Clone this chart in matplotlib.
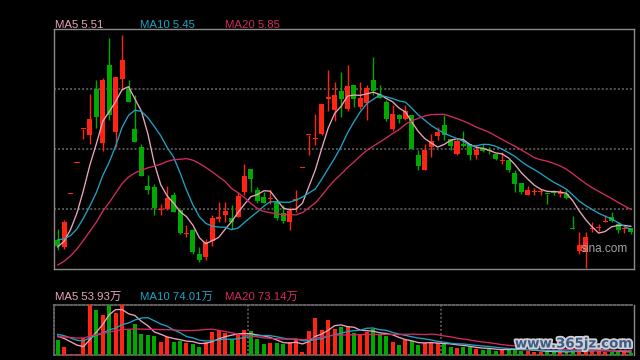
import numpy as np
import pandas as pd
import matplotlib
matplotlib.use("Agg")
import matplotlib.pyplot as plt
import matplotlib.patheffects as pe

plt.rcParams['font.family'] = ['Liberation Sans', 'Noto Sans CJK SC', 'DejaVu Sans']
plt.rcParams['lines.scale_dashes'] = False

# ---------------- data ----------------
# closes of the 19 sessions before the visible window (needed for the moving averages)
prior_close = [4.08, 4.00, 4.04, 4.02, 4.06, 4.04, 4.04, 4.34, 4.68, 5.04,
               5.40, 5.52, 5.44, 5.32, 5.24, 5.04, 5.00, 5.12, 5.22]
prior_volume = [200, 220, 240, 260, 250, 280, 300, 350, 370, 400,
                380, 450, 420, 400, 370, 360, 318, 318, 444]

opens = [5.24, 5.11, 6.17, 6.79, 7.47, 7.35, 8.26, 7.19, 8.74, 7.41,
         8.46, 8.26, 7.46, 7.11, 6.32, 6.31, 5.84, 5.86, 6.14, 5.85,
         5.37, 5.44, 4.95, 4.91, 5.22, 5.67, 5.74, 5.69, 5.71, 6.21,
         6.65, 6.25, 6.11, 6.06, 6.02, 5.79, 5.61, 6.02, 6.68, 7.35,
         7.27, 7.36, 8.07, 7.84, 8.21, 7.87, 8.35, 7.91, 7.99, 8.44,
         8.17, 7.99, 7.47, 7.73, 7.66, 7.75, 6.94, 6.64, 7.11, 7.32,
         7.54, 7.26, 6.97, 7.17, 7.17, 6.94, 7.09, 7.05, 6.97, 6.83,
         6.84, 6.59, 6.39, 6.15, 6.20, 6.20, 6.17, 6.19, 6.17, 6.17,
         5.48, 5.03, 5.01, 5.46, 5.48, 5.61, 5.69, 5.57, 5.46, 5.49]
highs = [5.46, 5.64, 6.17, 6.79, 7.47, 8.17, 8.44, 8.47, 9.29, 8.51,
         9.35, 8.44, 8.15, 7.17, 6.54, 6.36, 5.97, 6.32, 6.21, 5.85,
         5.54, 5.47, 5.11, 5.27, 5.74, 6.00, 6.01, 5.94, 6.21, 6.76,
         6.67, 6.31, 6.21, 6.24, 6.02, 5.94, 5.91, 6.24, 6.68, 7.35,
         7.77, 7.97, 8.64, 8.39, 8.61, 8.74, 8.35, 8.41, 8.34, 8.91,
         8.35, 8.04, 7.94, 7.77, 7.95, 7.75, 7.05, 7.16, 7.37, 7.51,
         7.75, 7.26, 7.27, 7.42, 7.17, 7.14, 7.17, 7.11, 6.97, 7.01,
         6.85, 6.64, 6.39, 6.32, 6.29, 6.27, 6.17, 6.25, 6.27, 6.25,
         5.72, 5.41, 5.41, 5.61, 5.57, 5.74, 5.81, 5.61, 5.52, 5.49]
lows = [5.04, 5.06, 6.17, 6.79, 7.26, 7.17, 7.49, 7.02, 7.64, 7.11,
        8.24, 8.01, 7.21, 6.53, 6.16, 5.74, 5.74, 5.84, 5.81, 5.36,
        5.31, 4.97, 4.81, 4.84, 5.12, 5.61, 5.61, 5.47, 5.71, 6.14,
        6.21, 5.99, 5.99, 5.97, 5.65, 5.59, 5.44, 5.81, 6.68, 6.94,
        7.14, 7.34, 7.82, 7.62, 7.71, 7.82, 7.91, 7.87, 7.64, 8.14,
        8.09, 7.62, 7.42, 7.59, 7.64, 7.07, 6.64, 6.64, 6.91, 7.24,
        7.24, 7.04, 6.94, 7.11, 6.84, 6.87, 7.01, 6.96, 6.85, 6.76,
        6.61, 6.21, 6.17, 6.15, 6.15, 6.15, 5.96, 6.14, 6.11, 6.07,
        5.47, 4.97, 4.69, 5.41, 5.43, 5.61, 5.61, 5.39, 5.39, 5.36]
closes = [5.12, 5.61, 6.17, 6.79, 7.47, 7.66, 7.71, 8.44, 7.75, 8.49,
          8.84, 8.01, 7.21, 6.53, 6.24, 5.89, 5.86, 6.09, 5.81, 5.39,
          5.38, 5.01, 4.84, 5.21, 5.69, 5.71, 5.82, 5.61, 6.12, 6.52,
          6.47, 6.02, 5.99, 6.09, 5.69, 5.62, 5.82, 6.07, 6.68, 7.35,
          7.28, 7.97, 8.11, 8.14, 8.06, 8.32, 8.06, 8.09, 8.29, 8.22,
          8.09, 7.67, 7.75, 7.67, 7.82, 7.07, 6.73, 7.05, 7.23, 7.41,
          7.34, 7.13, 7.22, 7.13, 6.94, 7.05, 7.03, 7.02, 6.87, 6.84,
          6.64, 6.37, 6.20, 6.24, 6.23, 6.23, 6.16, 6.18, 6.20, 6.09,
          5.47, 5.15, 5.31, 5.47, 5.49, 5.63, 5.62, 5.45, 5.47, 5.40]
volume = [270, 149, 18, 18, 300, 905, 823, 720, 900, 761,
          902, 450, 558, 378, 360, 342, 239, 319, 234, 252,
          211, 198, 149, 239, 419, 450, 401, 283, 360, 450,
          432, 288, 198, 221, 221, 198, 239, 283, 59, 432,
          671, 450, 630, 468, 509, 509, 401, 360, 419, 468,
          360, 342, 239, 180, 270, 252, 180, 211, 211, 225,
          211, 149, 131, 149, 149, 108, 90, 103, 77, 108,
          121, 108, 72, 72, 63, 63, 63, 54, 54, 52.7,
          86, 95, 113, 86, 90.45, 60, 59, 54, 54, 42.65]  # unit: 万

ma_periods = [5, 10, 20]
ma_colors = ['#eaa6bc', '#1ea3c4', '#d42a62']

# ---------------- computation ----------------
n = len(closes)
x = np.arange(n)
o = np.array(opens); h = np.array(highs); l = np.array(lows); c = np.array(closes)
v = np.array(volume, dtype=float)
all_close = pd.Series(prior_close + closes)
all_vol = pd.Series(prior_volume + volume)
price_ma = {p: all_close.rolling(p).mean().values[len(prior_close):] for p in ma_periods}
vol_ma = {p: all_vol.rolling(p).mean().values[len(prior_volume):] for p in ma_periods}

RED = '#ff2414'
GREEN = '#00a900'
up = c >= o
cols = np.where(up, RED, GREEN)

# ---------------- figure ----------------
W, H = 640, 360
fig = plt.figure(figsize=(6.4, 3.6), dpi=100, facecolor='black')

def fx(px):
    return px / W

def fy(py):
    return 1 - py / H

ax = fig.add_axes([fx(54), fy(269), fx(634) - fx(54), fy(29) - fy(269)], facecolor='black')
axv = fig.add_axes([fx(54), fy(355), fx(634) - fx(54), fy(305) - fy(355)], facecolor='black')

xlim = (-0.57, 89.48)
GRID = '#5a5a5a'
FRAME = '#8a8a8a'

# candles
ax.vlines(x, l, h, colors=cols, linewidth=1.0, zorder=3)
body_lo = np.minimum(o, c)
body_h = np.maximum(np.abs(c - o), 0.018)
ax.bar(x, body_h, bottom=body_lo, width=0.78, color=cols, linewidth=0, zorder=4)
for p, col in zip(ma_periods, ma_colors):
    ax.plot(x, price_ma[p], color=col, linewidth=0.95, zorder=5)

lo = l.min() - 0.03
hi = h.max() + 0.11
ax.set_ylim(lo, hi)
ax.set_xlim(*xlim)
for k in (1, 2, 3):
    ax.axhline(lo + k * (hi - lo) / 4, color=GRID, linewidth=1.3,
               linestyle=(0, (1.4, 1.5)), zorder=1)
ax.set_xticks([]); ax.set_yticks([])
for s in ax.spines.values():
    s.set_color(FRAME); s.set_linewidth(1.0)

# volume
axv.bar(x, v, width=0.62, color=cols, linewidth=0, zorder=3)
for p, col in zip(ma_periods, ma_colors):
    axv.plot(x, vol_ma[p], color=col, linewidth=0.95, zorder=4)
axv.set_ylim(0, v.max())
axv.set_xlim(*xlim)
for sx in (29.5, 59.5):
    axv.axvline(sx, color=GRID, linewidth=1.3, linestyle=(0, (1.4, 1.5)), zorder=1)
axv.set_xticks([]); axv.set_yticks([])
for name, s in axv.spines.items():
    s.set_linewidth(1.3)
    if name == 'right':
        s.set_color(FRAME); s.set_linewidth(1.0)
    else:
        s.set_color('#6a6a6a'); s.set_linestyle((0, (1.4, 1.5)))

# labels
label_x = [55, 140, 225]
for p, col, lx in zip(ma_periods, ma_colors, label_x):
    fig.text(fx(lx), fy(27.5), f"MA{p} {price_ma[p][-1]:.2f}", color=col,
             fontsize=8.2, va='baseline', ha='left')
    fig.text(fx(lx), fy(300), f"MA{p} {vol_ma[p][-1]:.2f}万", color=col,
             fontsize=8.2, va='baseline', ha='left')

# watermarks
fig.text(fx(581), fy(249.5), "sina.com", color='#b4b4b4', fontsize=8.5,
         va='center', ha='left', alpha=0.9)
fig.text(fx(633), fy(344), "www.365jz.com", color='#3a5b8c', fontsize=9.6,
         fontweight='bold', va='center', ha='right',
         family=['DejaVu Sans'],
         path_effects=[pe.withStroke(linewidth=2.6, foreground='#cfcfcf')])

fig.savefig("out.png", dpi=100, facecolor='black')
